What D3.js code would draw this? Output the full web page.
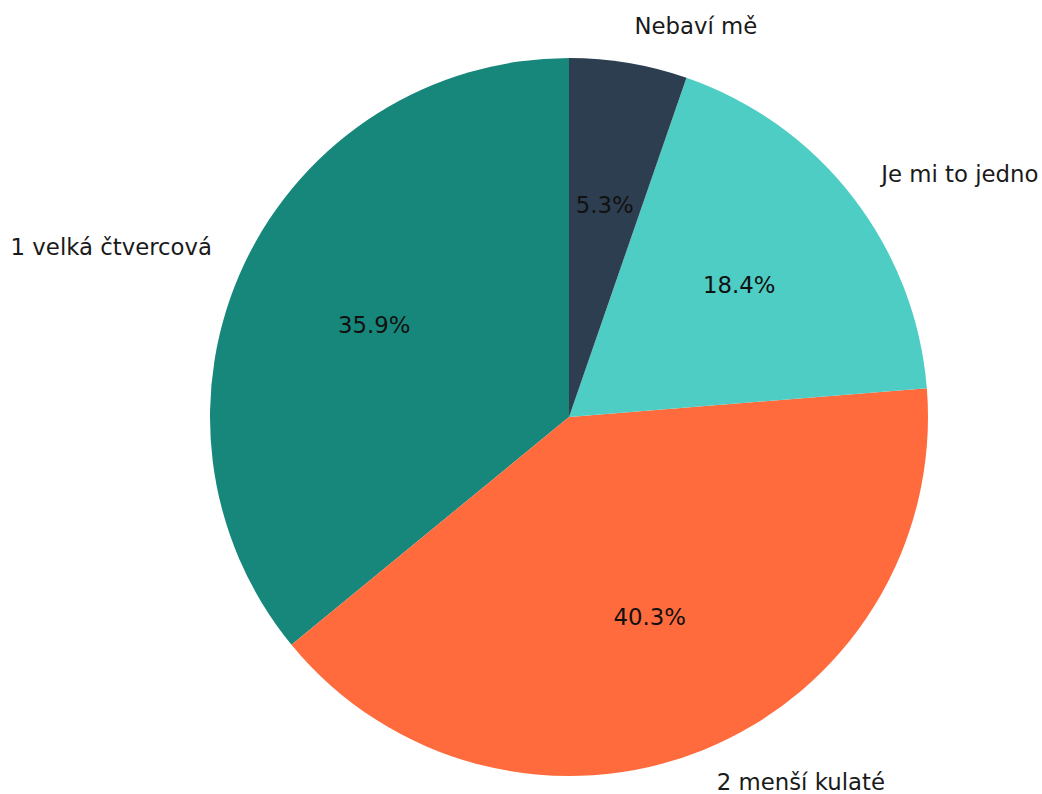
<!DOCTYPE html>
<html>
<head>
<meta charset="utf-8">
<script src="https://cdn.jsdelivr.net/npm/d3@7"></script>
<style>
html,body{margin:0;padding:0;background:#fff;}
svg{display:block;}
text{font-family:"DejaVu Sans",sans-serif;}
</style>
</head>
<body>
<svg id="chart" width="1042" height="794"></svg>
<script>
const categories = ["1 velká čtvercová", "2 menší kulaté", "Je mi to jedno", "Nebaví mě"];
const values = [35.9, 40.3, 18.4, 5.3];
const colors = ["#17877b", "#ff6b3d", "#4ecdc4", "#2d3e50"];

const width = 1042, height = 794;
const cx = 569, cy = 417, r = 359;
const fontSize = 22.8;

const svg = d3.select("#chart");
const g = svg.append("g").attr("transform", `translate(${cx},${cy})`);

const data = categories.map((c, i) => ({label: c, value: values[i], color: colors[i]}));

// matplotlib style: start at top, counterclockwise
const pie = d3.pie().value(d => d.value).sort(null)
  .startAngle(0).endAngle(-2 * Math.PI);
const arcs = pie(data);
const arc = d3.arc().innerRadius(0).outerRadius(r);

g.selectAll("path.slice").data(arcs).enter().append("path")
  .attr("class", "slice")
  .attr("d", arc)
  .attr("fill", d => d.data.color);

function pt(a, rad) {
  return [rad * Math.sin(a), -rad * Math.cos(a)];
}

const total = d3.sum(values);
arcs.forEach(d => {
  const mid = (d.startAngle + d.endAngle) / 2;
  const [lx, ly] = pt(mid, r * 1.1);
  g.append("text")
    .attr("x", lx).attr("y", ly)
    .attr("dy", "0.3em")
    .attr("text-anchor", lx >= 0 ? "start" : "end")
    .attr("font-size", fontSize)
    .attr("fill", "#1a1a1a")
    .text(d.data.label);
  const [px, py] = pt(mid, r * 0.6);
  g.append("text")
    .attr("x", px).attr("y", py)
    .attr("dy", "0.35em")
    .attr("text-anchor", "middle")
    .attr("font-size", fontSize)
    .attr("fill", "#111")
    .text((d.data.value / total * 100).toFixed(1) + "%");
});
</script>
</body>
</html>
